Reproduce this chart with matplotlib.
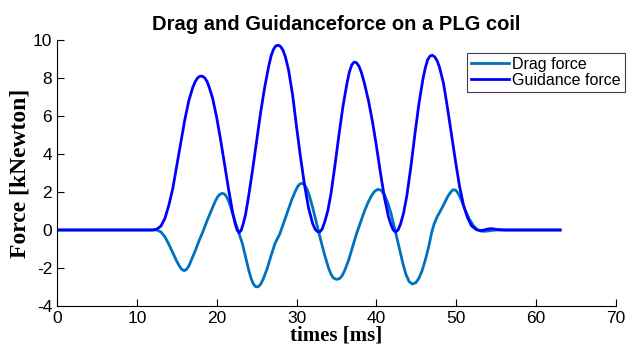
import matplotlib.pyplot as plt

# values (ms, kN)
t_drag = [0, 12.5, 13, 13.5, 14, 14.5, 15, 15.3, 15.6, 15.9, 16.2, 16.5,
          16.8, 17.3, 17.8, 18.3, 18.8, 19.3, 19.8, 20.1, 20.4, 20.7, 21.0,
          21.3, 21.6, 22, 22.4, 22.8, 23.2, 23.6, 24, 24.3, 24.6, 24.9, 25.2,
          25.5, 25.8, 26.3, 26.8, 27.3, 27.9, 28.4, 28.9, 29.4, 29.8, 30.1,
          30.4, 30.7, 31.0, 31.3, 31.6, 32, 32.5, 33, 33.5, 34, 34.3, 34.6,
          35, 35.4, 35.7, 36, 36.5, 37, 37.5, 38, 38.5, 39, 39.4, 39.8, 40.2,
          40.6, 41.0, 41.4, 41.8, 42.3, 42.8, 43.3, 43.7, 44.1, 44.5, 44.9,
          45.3, 45.7, 46.1, 46.5, 46.9, 47.2, 47.6, 48, 48.5, 48.9, 49.3,
          49.6, 49.9, 50.2, 50.6, 51.1, 51.6, 52.1, 52.6, 53, 53.5, 54, 54.5,
          55, 63]
drag = [0, 0, -0.1, -0.35, -0.75, -1.2, -1.65, -1.88, -2.06, -2.14, -2.08,
        -1.9, -1.6, -1.1, -0.55, -0.05, 0.5, 1.0, 1.5, 1.74, 1.88, 1.93,
        1.88, 1.7, 1.4, 0.85, 0.3, -0.2, -0.7, -1.4, -2.1, -2.55, -2.85,
        -2.99, -2.98, -2.85, -2.6, -2.05, -1.35, -0.7, -0.2, 0.4, 1.0, 1.6,
        2.0, 2.27, 2.42, 2.46, 2.38, 2.15, 1.8, 1.2, 0.35, -0.5, -1.3, -2.0,
        -2.32, -2.52, -2.6, -2.55, -2.4, -2.15, -1.6, -0.9, -0.2, 0.4, 1.0,
        1.5, 1.82, 2.05, 2.14, 2.08, 1.85, 1.45, 0.9, 0.05, -0.85, -1.75,
        -2.35, -2.72, -2.84, -2.78, -2.55, -2.15, -1.6, -0.95, -0.15, 0.3,
        0.7, 1.0, 1.4, 1.75, 2.0, 2.12, 2.1, 1.95, 1.6, 1.05, 0.6, 0.25,
        0.03, -0.05, -0.07, -0.05, -0.02, 0, 0]

t_guid = [0, 12.0, 12.5, 13, 13.5, 14, 14.5, 15, 15.5, 16, 16.5, 17, 17.3,
          17.6, 17.9, 18.2, 18.5, 18.8, 19.1, 19.5, 20, 20.5, 21, 21.5, 22,
          22.3, 22.55, 22.8, 23.05, 23.3, 23.6, 24, 24.5, 25, 25.5, 26, 26.5,
          26.8, 27.1, 27.4, 27.7, 28.0, 28.3, 28.6, 29, 29.5, 30, 30.5, 31,
          31.5, 32, 32.3, 32.6, 32.9, 33.2, 33.5, 33.9, 34.3, 34.8, 35.3,
          35.8, 36.3, 36.6, 36.9, 37.2, 37.5, 37.8, 38.1, 38.5, 39, 39.5, 40,
          40.5, 41, 41.5, 41.8, 42.1, 42.4, 42.7, 43.0, 43.4, 43.8, 44.3,
          44.8, 45.3, 45.8, 46.1, 46.4, 46.7, 47.0, 47.3, 47.6, 47.9, 48.4,
          48.9, 49.4, 49.9, 50.4, 50.9, 51.4, 51.9, 52.5, 53, 53.5, 54, 54.5,
          55, 56, 63]
guid = [0, 0, 0.05, 0.2, 0.6, 1.3, 2.2, 3.4, 4.6, 5.8, 6.8, 7.5, 7.8, 8.0,
        8.09, 8.09, 8.0, 7.8, 7.45, 6.9, 5.9, 4.7, 3.4, 2.1, 0.9, 0.35,
        0.0, -0.14, -0.02, 0.3, 0.8, 1.8, 3.2, 4.7, 6.2, 7.5, 8.6, 9.15,
        9.5, 9.68, 9.72, 9.65, 9.45, 9.1, 8.4, 7.1, 5.4, 3.8, 2.35, 1.15,
        0.35, 0.05, -0.08, -0.1, 0.05, 0.4, 1.0, 1.9, 3.4, 5.0, 6.5, 7.7,
        8.3, 8.68, 8.83, 8.8, 8.62, 8.3, 7.7, 6.8, 5.7, 4.4, 3.0, 1.7, 0.7,
        0.3, 0.0, -0.1, 0.0, 0.3, 0.9, 1.8, 3.3, 5.0, 6.6, 7.9, 8.5, 8.95,
        9.15, 9.19, 9.1, 8.9, 8.55, 7.7, 6.4, 5.0, 3.6, 2.3, 1.3, 0.65,
        0.22, 0.02, -0.03, 0.0, 0.06, 0.07, 0.03, 0, 0]

x_ticks = [0, 10, 20, 30, 40, 50, 60, 70]
y_ticks = [-4, -2, 0, 2, 4, 6, 8, 10]

plt.rcParams['font.family'] = ['Liberation Sans', 'DejaVu Sans']
plt.rcParams['axes.unicode_minus'] = False

fig = plt.figure(figsize=(6.28, 3.53), dpi=100)
ax = fig.add_axes([0.0908, 0.133, 0.8902, 0.754])

ax.plot(t_drag, drag, color='#0072BD', lw=2, label='Drag force')
ax.plot(t_guid, guid, color='#0000FF', lw=2, label='Guidance force')

ax.set_xlim(0, 70)
ax.set_ylim(-4, 10)
ax.set_xticks(x_ticks)
ax.set_yticks(y_ticks)
ax.tick_params(direction='in', length=5, labelsize=12.5, width=0.8)
ax.spines['top'].set_visible(False)
ax.spines['right'].set_visible(False)

ax.set_title('Drag and Guidanceforce on a PLG coil', fontsize=14.5,
             fontweight='bold', pad=7)
ax.set_xlabel('times [ms]', fontsize=15, fontweight='bold',
              family='Liberation Serif', labelpad=0)
ax.set_ylabel('Force [kNewton]', fontsize=17, fontweight='bold',
              family='Liberation Serif', labelpad=2)

leg = ax.legend(loc='upper right', bbox_to_anchor=(625 / 628, 300 / 353),
                bbox_transform=fig.transFigure, fontsize=11.5,
                fancybox=False, framealpha=1, handlelength=2.4,
                handletextpad=0.2, labelspacing=0.05, borderpad=0.25,
                borderaxespad=0)
leg.get_frame().set_edgecolor('#404040')
leg.get_frame().set_linewidth(0.8)

fig.savefig('out.png', dpi=100)
